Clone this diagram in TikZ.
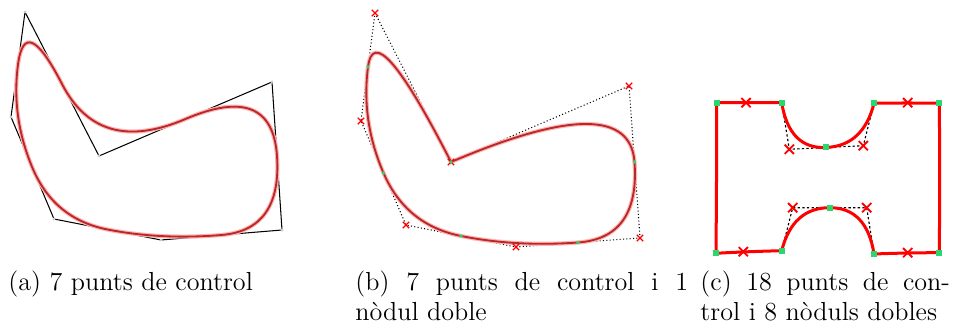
\documentclass[tikz,border=0pt]{standalone}
\usepackage{tikz}
\usetikzlibrary{calc,shapes.misc}
\definecolor{knotgreen}{RGB}{40,215,110}
\definecolor{splinered}{RGB}{185,40,40}
\tolerance=3000

% tram quadratic: inici, punt de control, final
\newcommand{\qto}[3]{.. controls ($(#1)!2/3!(#2)$) and ($(#3)!2/3!(#2)$) .. (#3)}
% tram uniforme entre punts mitjos
\newcommand{\bseg}[3]{.. controls ($(#1)!5/6!(#2)$) and ($(#3)!5/6!(#2)$) .. ($(#2)!.5!(#3)$)}

\begin{document}
\begin{tikzpicture}[
    x=0.4329pt, y=-0.4329pt,
    ctrlpoly/.style={draw=black, line width=0.45pt, line join=round},
    ctrldot/.style={draw=black, densely dotted, line width=0.45pt},
    ctrldash/.style={draw=black, dash pattern=on 1pt off 1pt, line width=0.5pt},
    bcurve/.style={draw=splinered, line width=0.8pt, preaction={draw=red!30, line width=1.8pt}},
    hcurve/.style={draw=red, line width=1.3pt},
    ctrlx/.style={cross out, draw=red, line width=0.6pt, minimum size=2.2pt, inner sep=0pt},
    bigx/.style={cross out, draw=red, line width=0.8pt, minimum size=3.2pt, inner sep=0pt},
    knot/.style={circle, fill=knotgreen, minimum size=1.6pt, inner sep=0pt},
    dknot/.style={rectangle, fill=knotgreen, minimum size=2.6pt, inner sep=0pt},
    vertex/.style={circle, fill=gray!40, minimum size=1.4pt, inner sep=0pt},
    caption/.style={anchor=base west, inner sep=0pt, align=justify, font=\fontsize{11.3}{13}\selectfont}
]
\useasboundingbox (0,0) rectangle (953,328);

% (a) 7 punts de control
\coordinate (a1) at (25,12);
\coordinate (a2) at (99,156);
\coordinate (a3) at (272,82);
\coordinate (a4) at (282,230);
\coordinate (a5) at (161,240);
\coordinate (a6) at (54,219);
\coordinate (a7) at (11,117);
\draw[ctrlpoly] (a1) -- (a2) -- (a3) -- (a4) -- (a5) -- (a6) -- (a7) -- cycle;
\draw[bcurve] ($(a7)!.5!(a1)$) \bseg{a7}{a1}{a2} \bseg{a1}{a2}{a3} \bseg{a2}{a3}{a4}
    \bseg{a3}{a4}{a5} \bseg{a4}{a5}{a6} \bseg{a5}{a6}{a7} \bseg{a6}{a7}{a1} -- cycle;
\foreach \i in {1,...,7} \node[vertex] (va\i) at (a\i) {};

% (b) 7 punts de control i 1 nodul doble
\coordinate (b1) at (375,13);
\coordinate (b2) at (451,162);
\coordinate (b3) at (629,86);
\coordinate (b4) at (640,238);
\coordinate (b5) at (516,247);
\coordinate (b6) at (406,225);
\coordinate (b7) at (361,121);
\coordinate (mb71) at ($(b7)!.5!(b1)$);
\coordinate (mb34) at ($(b3)!.5!(b4)$);
\coordinate (mb45) at ($(b4)!.5!(b5)$);
\coordinate (mb56) at ($(b5)!.5!(b6)$);
\coordinate (mb67) at ($(b6)!.5!(b7)$);
\draw[ctrldot] (b1) -- (b2) -- (b3) -- (b4) -- (b5) -- (b6) -- (b7) -- cycle;
\draw[bcurve] (mb71) \qto{mb71}{b1}{b2} \qto{b2}{b3}{mb34} \bseg{b3}{b4}{b5}
    \bseg{b4}{b5}{b6} \bseg{b5}{b6}{b7} \bseg{b6}{b7}{b1} -- cycle;
\foreach \i in {1,...,7} \node[ctrlx] (xb\i) at (b\i) {};
\foreach \m in {mb71,b2,mb34,mb45,mb56,mb67} \node[knot] (k\m) at (\m) {};

% (c) 18 punts de control i 8 noduls dobles
\coordinate (c1) at (716.7,102.7);
\coordinate (c2) at (746,102.7);
\coordinate (c3) at (781.7,102.7);
\coordinate (c4) at (789.3,149.3);
\coordinate (c5) at (863.3,145.7);
\coordinate (c6) at (874,103.3);
\coordinate (c7) at (907.7,102.7);
\coordinate (c8) at (939.3,103.3);
\coordinate (c9) at (940,178);
\coordinate (c10) at (939.3,252.7);
\coordinate (c11) at (907.7,252.7);
\coordinate (c12) at (874,254);
\coordinate (c13) at (866.7,207.7);
\coordinate (c14) at (792.7,207.7);
\coordinate (c15) at (781.7,250.7);
\coordinate (c16) at (743.3,251.7);
\coordinate (c17) at (716,253.3);
\coordinate (c18) at (716.7,173);
\coordinate (mc45) at ($(c4)!.5!(c5)$);
\coordinate (mc1314) at ($(c13)!.5!(c14)$);
\draw[ctrldash] (c1) \foreach \i in {2,...,18} {-- (c\i)} -- cycle;
\draw[hcurve] (c1) \qto{c1}{c2}{c3} \qto{c3}{c4}{mc45} \qto{mc45}{c5}{c6}
    \qto{c6}{c7}{c8} \qto{c8}{c9}{c10} \qto{c10}{c11}{c12} \qto{c12}{c13}{mc1314}
    \qto{mc1314}{c14}{c15} \qto{c15}{c16}{c17} \qto{c17}{c18}{c1} -- cycle;
\foreach \i in {2,4,5,7,11,13,14,16} \node[bigx] (xc\i) at (c\i) {};
\foreach \i in {1,3,6,8,10,12,15,17} \node[dknot] (kc\i) at (c\i) {};
\node[dknot] (kmc45) at (mc45) {};
\node[dknot] (kmc1314) at (mc1314) {};

% peus de figura
\node[caption, text width=120pt] (capa) at (8,290.5) {(a) 7 punts de control};
\node[caption, text width=144pt] (capb) at (355,290.5) {(b) 7 punts de control i 1\linebreak nòdul doble};
\node[caption, text width=108pt] (capc) at (700,290.5) {(c) 18 punts de con-\linebreak trol i 8 nòduls dobles};

\end{tikzpicture}
\end{document}
